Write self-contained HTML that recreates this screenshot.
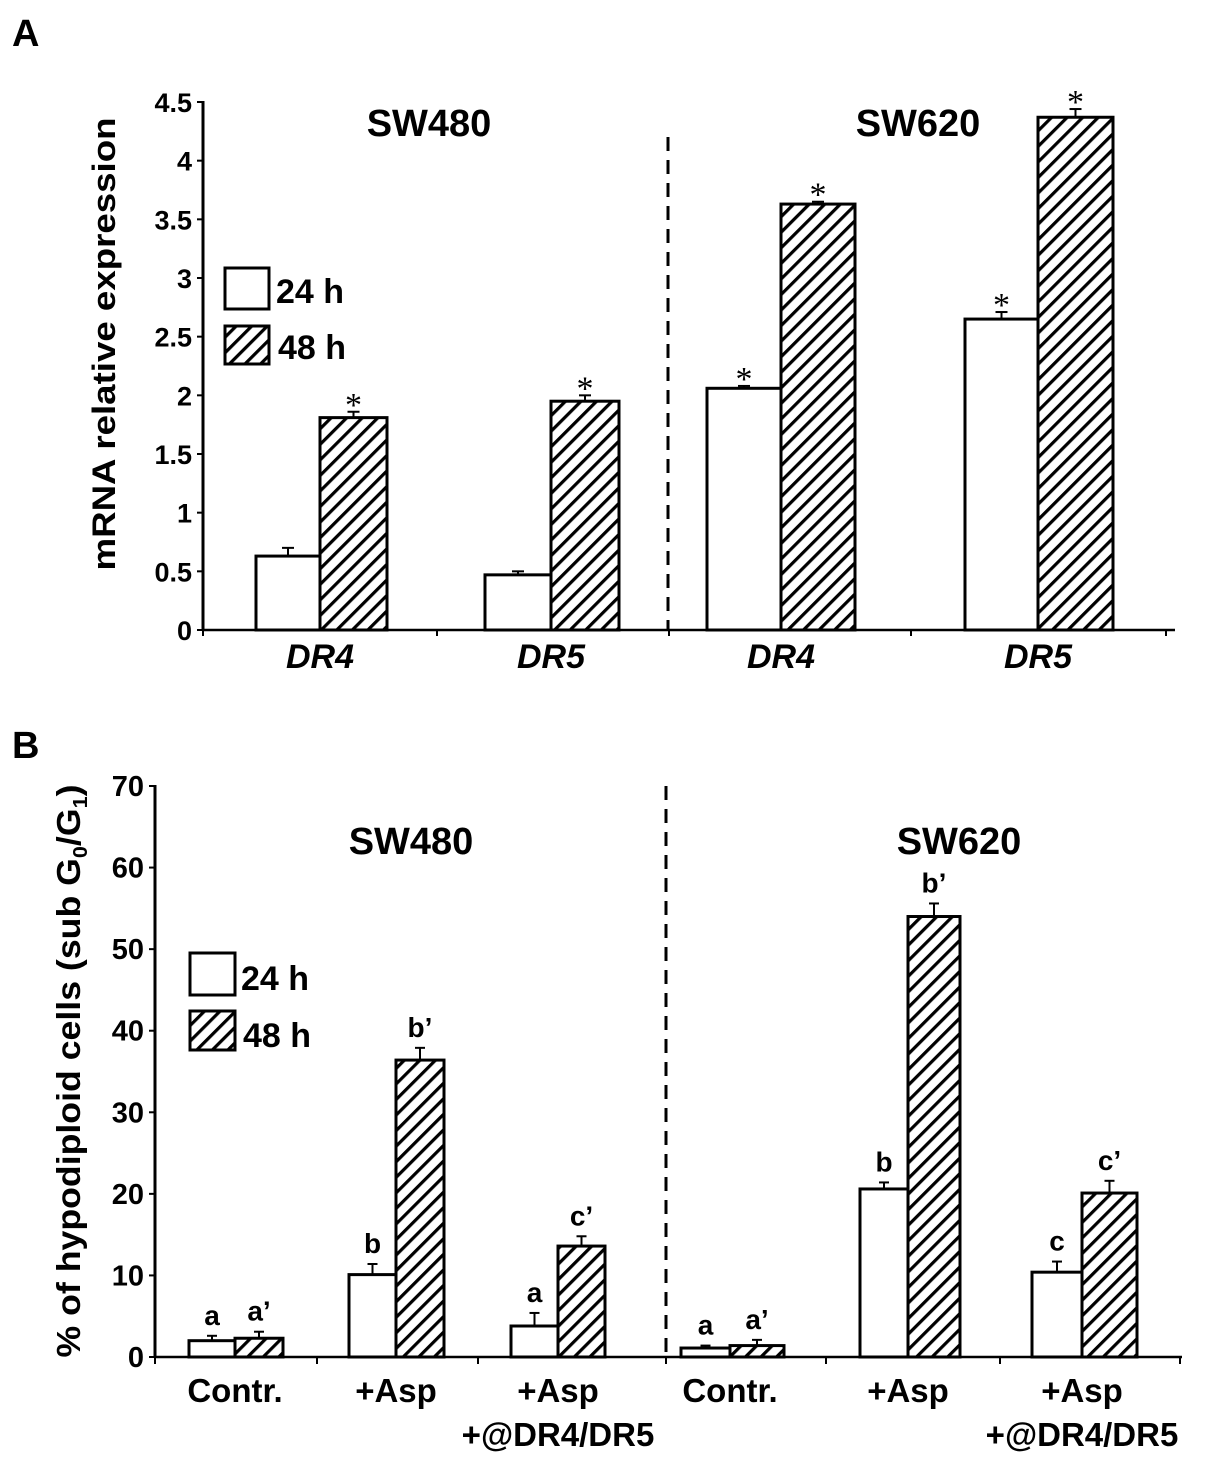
<!DOCTYPE html>
<html><head><meta charset="utf-8"><style>
html,body{margin:0;padding:0;background:#fff;}
svg{display:block;font-family:"Liberation Sans",Arial,sans-serif;font-weight:bold;}
</style></head><body>
<svg id="fig" width="1205" height="1470" viewBox="0 0 1205 1470">
<defs>
<pattern id="hatch" patternUnits="userSpaceOnUse" width="11" height="11" patternTransform="rotate(45)">
<rect width="11" height="11" fill="#fff"/><rect x="0" y="0" width="3.2" height="11" fill="#000"/>
</pattern>
</defs>
<text x="12" y="46" font-size="38">A</text>
<text x="12" y="758" font-size="38">B</text>
<g id="gA"></g>
<g id="gB"></g>
</svg>
<script>
// Panel A data
const catsA = ["DR4","DR5","DR4","DR5"];
const a24 = [0.63, 0.47, 2.06, 2.65];
const a48 = [1.81, 1.95, 3.63, 4.37];
const a24err = [0.07, 0.03, 0.02, 0.06];
const a48err = [0.05, 0.05, 0.02, 0.07];
const ticksA = [0,0.5,1,1.5,2,2.5,3,3.5,4,4.5];
const tickLabelsA = ["0","0.5","1","1.5","2","2.5","3","3.5","4","4.5"];
// Panel B data
const catsB = ["Contr.","+Asp","+Asp|+@DR4/DR5","Contr.","+Asp","+Asp|+@DR4/DR5"];
const b24 = [2.0, 10.1, 3.8, 1.1, 20.6, 10.4];
const b48 = [2.3, 36.4, 13.6, 1.4, 54.0, 20.1];
const b24err = [0.6, 1.3, 1.6, 0.3, 0.8, 1.3];
const b48err = [0.8, 1.5, 1.2, 0.7, 1.6, 1.5];
const b24sig = ["a","b","a","a","b","c"];
const b48sig = ["a\u2019","b\u2019","c\u2019","a\u2019","b\u2019","c\u2019"];
const ticksB = [0,10,20,30,40,50,60,70];

const NS="http://www.w3.org/2000/svg";
function mk(parent,tag,attrs,text){const e=document.createElementNS(NS,tag);for(const k in attrs)e.setAttribute(k,attrs[k]);if(text!==undefined)e.textContent=text;parent.appendChild(e);return e;}

// ---------- Panel A ----------
const gA=document.getElementById('gA');
const yA=v=>630-(v/4.5)*528;
const axA={x0:203,x1:1175};
const xA=i=>[256,485,707,965][i];
const bwWhite=[64,66,74,73], bwHatch=[67,68,74,75];
let e;
e=mk(gA,'line',{x1:axA.x0,y1:yA(0),x2:axA.x1,y2:yA(0),stroke:'#000','stroke-width':2.5});


e=mk(gA,'line',{x1:axA.x0,y1:yA(4.5)-1,x2:axA.x0,y2:yA(0),stroke:'#000','stroke-width':3});


ticksA.forEach((t,i)=>{
  mk(gA,'line',{x1:axA.x0-6,y1:yA(t),x2:axA.x0,y2:yA(t),stroke:'#000','stroke-width':2});
  e=mk(gA,'text',{x:192,y:yA(t)+10,'font-size':27,'text-anchor':'end'},tickLabelsA[i]);
  
  
});
[203,437,669,911,1166].forEach(x=>mk(gA,'line',{x1:x,y1:yA(0),x2:x,y2:yA(0)+6,stroke:'#000','stroke-width':2}));
e=mk(gA,'line',{x1:668,y1:137,x2:668,y2:630,stroke:'#000','stroke-width':3,'stroke-dasharray':'14,9'});


catsA.forEach((c,i)=>{
  const xw=xA(i), ww=bwWhite[i], wh=bwHatch[i];
  e=mk(gA,'rect',{x:xw,y:yA(a24[i]),width:ww,height:yA(0)-yA(a24[i]),fill:'#fff',stroke:'#000','stroke-width':3});
  
  
  e=mk(gA,'rect',{x:xw+ww,y:yA(a48[i]),width:wh,height:yA(0)-yA(a48[i]),fill:'url(#hatch)',stroke:'#000','stroke-width':3});
  
  
  const cw=xw+ww/2, ch=xw+ww+wh/2;
  [[cw,a24[i],a24err[i]],[ch,a48[i],a48err[i]]].forEach(([cx,v,er],k)=>{
    mk(gA,'line',{x1:cx,y1:yA(v),x2:cx,y2:yA(v+er),stroke:'#000','stroke-width':2});
    mk(gA,'line',{x1:cx-6,y1:yA(v+er),x2:cx+6,y2:yA(v+er),stroke:'#000','stroke-width':2});
    if(k===1||i>=2){
      e=mk(gA,'text',{x:cx,y:yA(v+er)+4,'font-size':34,'font-weight':'normal','text-anchor':'middle','font-family':'Liberation Serif, serif'},'*');
      
      
    }
  });
  e=mk(gA,'text',{x:xw+ww,y:668,'font-size':34,'font-style':'italic','text-anchor':'middle'},c);
  
  
});
e=mk(gA,'text',{x:429,y:136,'font-size':38,'text-anchor':'middle'},'SW480');


e=mk(gA,'text',{x:918,y:136,'font-size':38,'text-anchor':'middle'},'SW620');


e=mk(gA,'text',{x:0,y:0,'font-size':32,'text-anchor':'middle',textLength:453,lengthAdjust:'spacingAndGlyphs',transform:'translate(115,344) rotate(-90)'},'mRNA relative expression');


e=mk(gA,'rect',{x:225,y:268,width:44,height:41,fill:'#fff',stroke:'#000','stroke-width':3});


e=mk(gA,'rect',{x:225,y:326,width:44,height:38,fill:'url(#hatch)',stroke:'#000','stroke-width':3});


e=mk(gA,'text',{x:276,y:303,'font-size':34},'24 h');


e=mk(gA,'text',{x:278,y:359,'font-size':34},'48 h');



// ---------- Panel B ----------
const gB=document.getElementById('gB');
const yB=v=>1357-(v/70)*571;
const xB=[189,349,511,681,860,1032];
const wBw=[46,47,47,49,48,50], wBh=[48,48,47,54,52,55];
e=mk(gB,'line',{x1:155,y1:yB(0),x2:1182,y2:yB(0),stroke:'#000','stroke-width':2.5});


e=mk(gB,'line',{x1:155,y1:yB(70)-1,x2:155,y2:yB(0),stroke:'#000','stroke-width':3});


ticksB.forEach(t=>{
  mk(gB,'line',{x1:149,y1:yB(t),x2:155,y2:yB(t),stroke:'#000','stroke-width':2});
  e=mk(gB,'text',{x:144,y:yB(t)+10,'font-size':29,'text-anchor':'end'},String(t));
  
  
});
[155,317,478,666,826,1000,1180].forEach(x=>mk(gB,'line',{x1:x,y1:yB(0),x2:x,y2:yB(0)+7,stroke:'#000','stroke-width':2}));
e=mk(gB,'line',{x1:666,y1:yB(70),x2:666,y2:yB(0),stroke:'#000','stroke-width':3,'stroke-dasharray':'14,9'});


catsB.forEach((c,i)=>{
  const xw=xB[i], ww=wBw[i], wh=wBh[i];
  e=mk(gB,'rect',{x:xw,y:yB(b24[i]),width:ww,height:yB(0)-yB(b24[i]),fill:'#fff',stroke:'#000','stroke-width':3});
  
  
  e=mk(gB,'rect',{x:xw+ww,y:yB(b48[i]),width:wh,height:yB(0)-yB(b48[i]),fill:'url(#hatch)',stroke:'#000','stroke-width':3});
  
  
  const cw=xw+ww/2, ch=xw+ww+wh/2;
  [[cw,b24[i],b24err[i],b24sig[i]],[ch,b48[i],b48err[i],b48sig[i]]].forEach(([cx,v,er,s])=>{
    mk(gB,'line',{x1:cx,y1:yB(v),x2:cx,y2:yB(v+er),stroke:'#000','stroke-width':2});
    mk(gB,'line',{x1:cx-5,y1:yB(v+er),x2:cx+5,y2:yB(v+er),stroke:'#000','stroke-width':2});
    e=mk(gB,'text',{x:cx,y:yB(v+er)-11,'font-size':28,'text-anchor':'middle'},s);
    
    
  });
  const parts=c.split('|');
  parts.forEach((p,k)=>{
    e=mk(gB,'text',{x:xw+ww,y:1402+k*44,'font-size':33,'text-anchor':'middle'},p);
    
    
  });
});
e=mk(gB,'text',{x:411,y:854,'font-size':38,'text-anchor':'middle'},'SW480');


e=mk(gB,'text',{x:959,y:854,'font-size':38,'text-anchor':'middle'},'SW620');


const tt=mk(gB,'text',{x:0,y:0,'font-size':33,'text-anchor':'middle',textLength:573,lengthAdjust:'spacingAndGlyphs',transform:'translate(80,1071) rotate(-90)'});


mk(tt,'tspan',{},'% of hypodiploid cells (sub G');
mk(tt,'tspan',{'font-size':20,dy:7},'0');
mk(tt,'tspan',{dy:-7},'/G');
mk(tt,'tspan',{'font-size':20,dy:7},'1');
mk(tt,'tspan',{dy:-7},')');
e=mk(gB,'rect',{x:190,y:953,width:45,height:42,fill:'#fff',stroke:'#000','stroke-width':3});


e=mk(gB,'rect',{x:190,y:1011,width:45,height:39,fill:'url(#hatch)',stroke:'#000','stroke-width':3});


e=mk(gB,'text',{x:241,y:990,'font-size':34},'24 h');


e=mk(gB,'text',{x:243,y:1047,'font-size':34},'48 h');


</script>
</body></html>
